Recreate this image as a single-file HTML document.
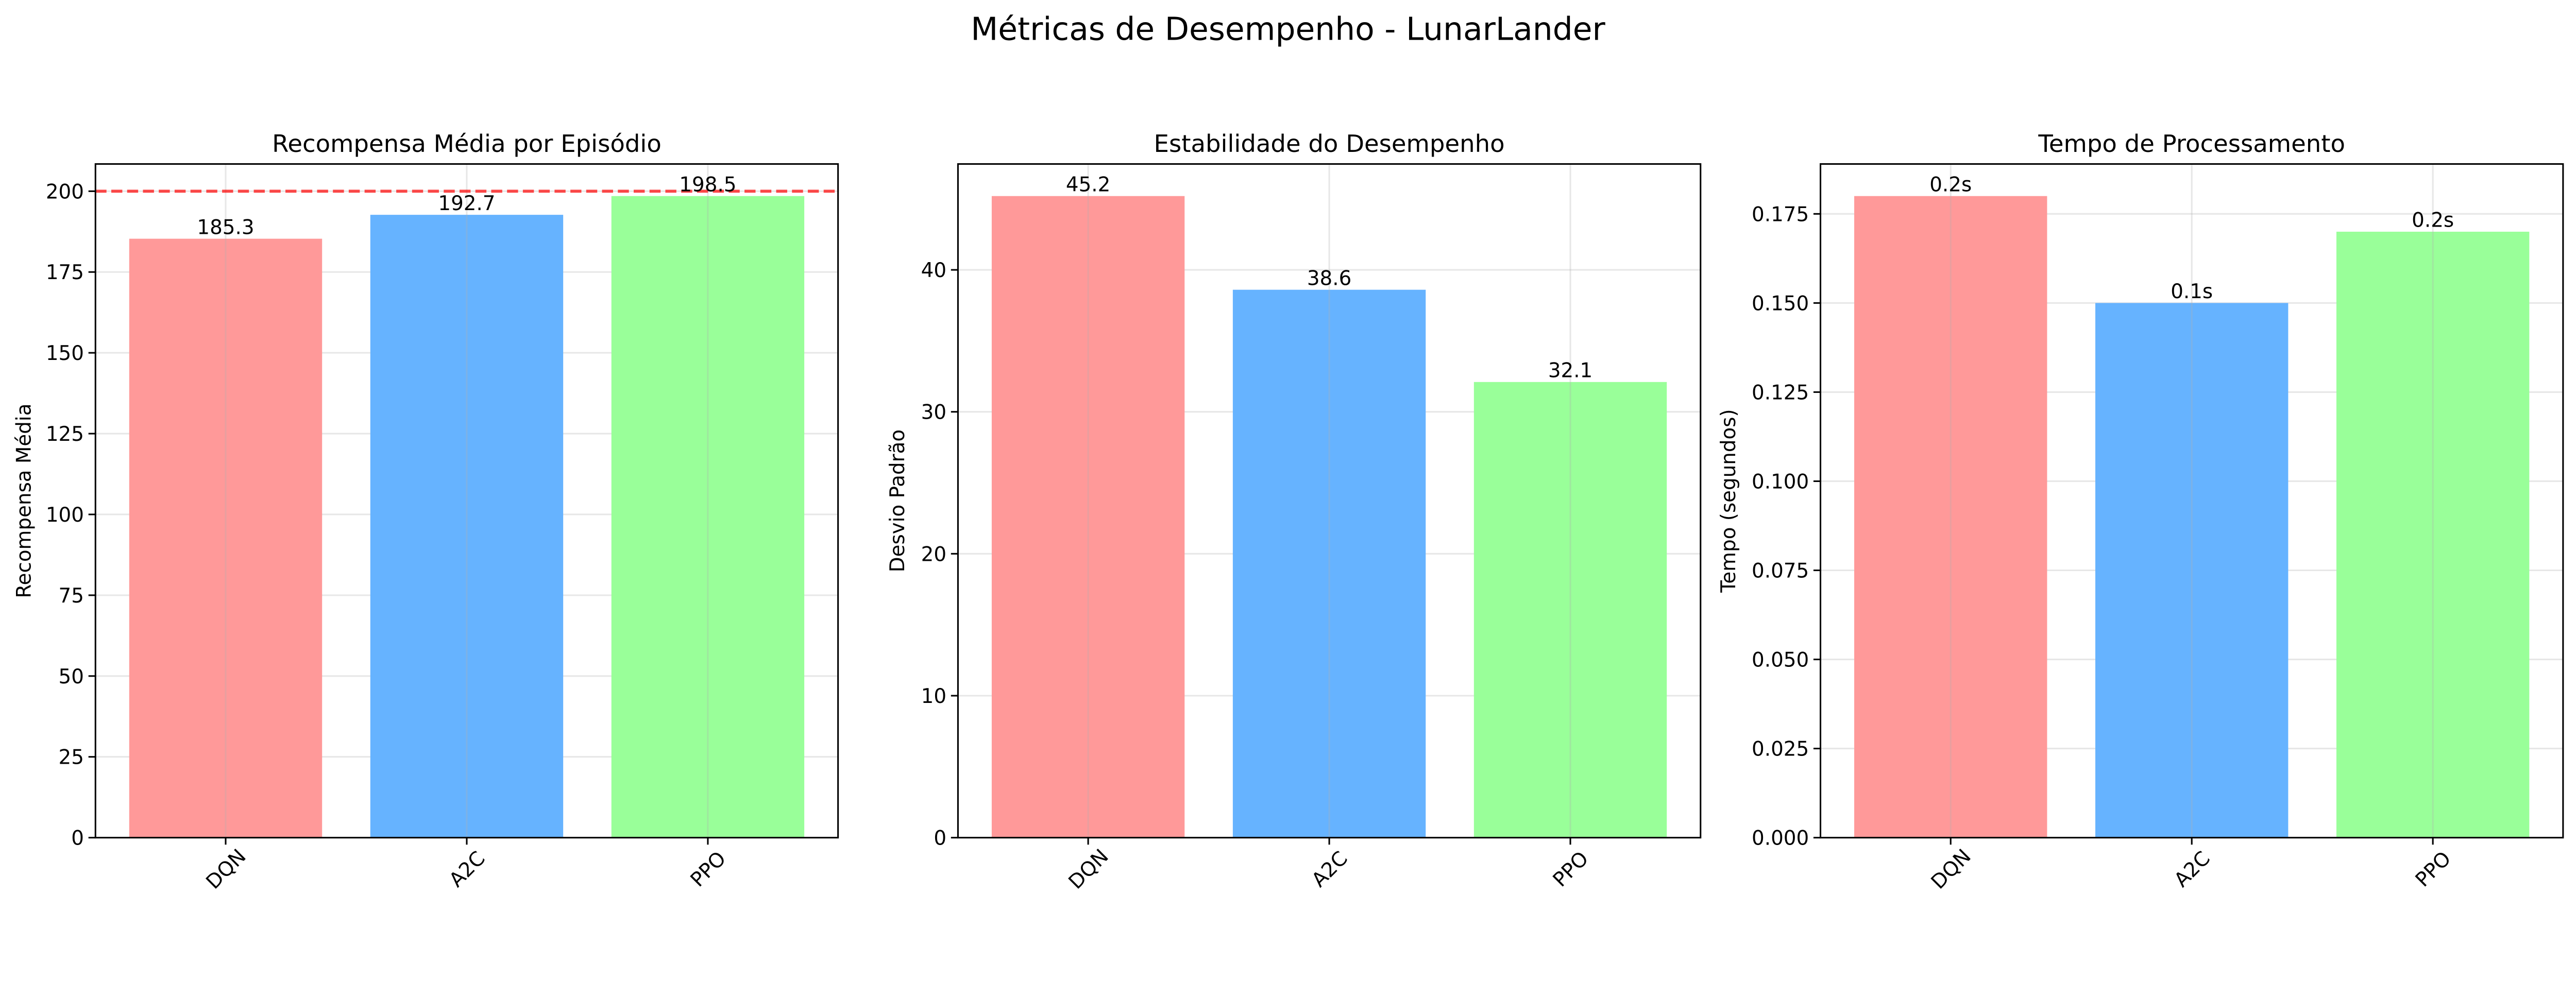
<!DOCTYPE html>
<html><head><meta charset="utf-8"><style>
html,body{margin:0;padding:0;background:#fff;width:100%;height:100%;overflow:hidden;}
svg{display:block;width:100vw;height:35.475vw;font-family:"DejaVu Sans","Liberation Sans",sans-serif;}
</style></head>
<body>
<svg id="fig" viewBox="0 0 5370 1905" preserveAspectRatio="xMinYMin meet" xmlns="http://www.w3.org/2000/svg">
<rect width="5370" height="1905" fill="#fff"/>
<text x="2685" y="83" font-size="66" text-anchor="middle" fill="#000">Métricas de Desempenho - LunarLander</text>
</svg>
<script>
const categories = ["DQN", "A2C", "PPO"];
const rewardValues = [185.3, 192.7, 198.5];
const stdValues = [45.2, 38.6, 32.1];
const timeValues = [0.18, 0.15, 0.17];
const rewardTicks = [0, 25, 50, 75, 100, 125, 150, 175, 200];
const stdTicks = [0, 10, 20, 30, 40];
const timeTicks = [0, 0.025, 0.05, 0.075, 0.1, 0.125, 0.15, 0.175];
const rewardTarget = 200;
const barColors = ["#ff9999", "#66b3ff", "#99ff99"];

const NS = "http://www.w3.org/2000/svg";
const svg = document.getElementById("fig");
function mk(tag, attrs, parent) {
  const e = document.createElementNS(NS, tag);
  for (const k in attrs) e.setAttribute(k, attrs[k]);
  (parent || svg).appendChild(e);
  return e;
}
const TOP = 342, BOT = 1747, W = 1548;

function panel(idx, left, title, ylabel, ylabelOff, values, ticks, tickFmt, labelFmt, target) {
  const g = mk("g", {});
  
  
  const right = left + W;
  const ymaxUse = Math.max(...values) * 1.05;
  const y = v => BOT - (v / ymaxUse) * (BOT - TOP);
  const xmin = -0.54, xmax = 2.54;
  const x = i => left + (i - xmin) / (xmax - xmin) * W;
  const bw = 0.8 / (xmax - xmin) * W;

  ticks.forEach(t => {
    const l = mk("line", {x1: left, x2: right, y1: y(t), y2: y(t), stroke: "#b0b0b0", "stroke-opacity": 0.3, "stroke-width": 3.3}, g);
    
    
  });
  values.forEach((v, i) => {
    const r = mk("rect", {x: x(i) - bw / 2, y: y(v), width: bw, height: BOT - y(v), fill: barColors[i]}, g);
    
    
  });
  categories.forEach((c, i) => {
    const l = mk("line", {x1: x(i), x2: x(i), y1: TOP, y2: BOT, stroke: "#b0b0b0", "stroke-opacity": 0.3, "stroke-width": 3.3}, g);
    
    
  });
  if (target !== undefined) {
    const l = mk("line", {x1: left, x2: right, y1: y(target), y2: y(target), stroke: "#ff0000", "stroke-opacity": 0.7, "stroke-width": 6.25, "stroke-dasharray": "23 10"}, g);
    
    
  }
  values.forEach((v, i) => {
    const t = mk("text", {x: x(i), y: y(v) - 10, "font-size": 41.7, "text-anchor": "middle", fill: "#000"}, g);
    t.textContent = labelFmt(v);
    
    
  });
  const f = mk("rect", {x: left, y: TOP, width: W, height: BOT - TOP, fill: "none", stroke: "#000", "stroke-width": 3.3}, g);
  
  
  ticks.forEach(t => {
    mk("line", {x1: left - 14.6, x2: left, y1: y(t), y2: y(t), stroke: "#000", "stroke-width": 3.3}, g);
    const tx = mk("text", {x: left - 24, y: y(t) + 15, "font-size": 41.7, "text-anchor": "end", fill: "#000"}, g);
    tx.textContent = tickFmt(t);
    
    
  });
  categories.forEach((c, i) => {
    mk("line", {x1: x(i), x2: x(i), y1: BOT, y2: BOT + 14.6, stroke: "#000", "stroke-width": 3.3}, g);
    const cy = 1812;
    const tx = mk("text", {x: x(i), y: cy + 15, "font-size": 41.7, "text-anchor": "middle", fill: "#000", transform: "rotate(-45 " + x(i) + " " + cy + ")"}, g);
    tx.textContent = c;
    
    
  });
  const tt = mk("text", {x: left + W / 2, y: 317, "font-size": 50, "text-anchor": "middle", fill: "#000"}, g);
  tt.textContent = title;
  
  
  const yl = left - ylabelOff;
  const cyl = (TOP + BOT) / 2;
  const yt = mk("text", {x: yl, y: cyl, "font-size": 41.7, "text-anchor": "middle", fill: "#000", transform: "rotate(-90 " + yl + " " + cyl + ")"}, g);
  yt.textContent = ylabel;
  
  
}

panel(0, 199, "Recompensa Média por Episódio", "Recompensa Média", 135, rewardValues, rewardTicks, t => String(t), v => v.toFixed(1), rewardTarget);
panel(1, 1997, "Estabilidade do Desempenho", "Desvio Padrão", 112, stdValues, stdTicks, t => String(t), v => v.toFixed(1));
panel(2, 3795, "Tempo de Processamento", "Tempo (segundos)", 178, timeValues, timeTicks, t => t.toFixed(3), v => v.toFixed(1) + "s");
</script>
</body></html>
